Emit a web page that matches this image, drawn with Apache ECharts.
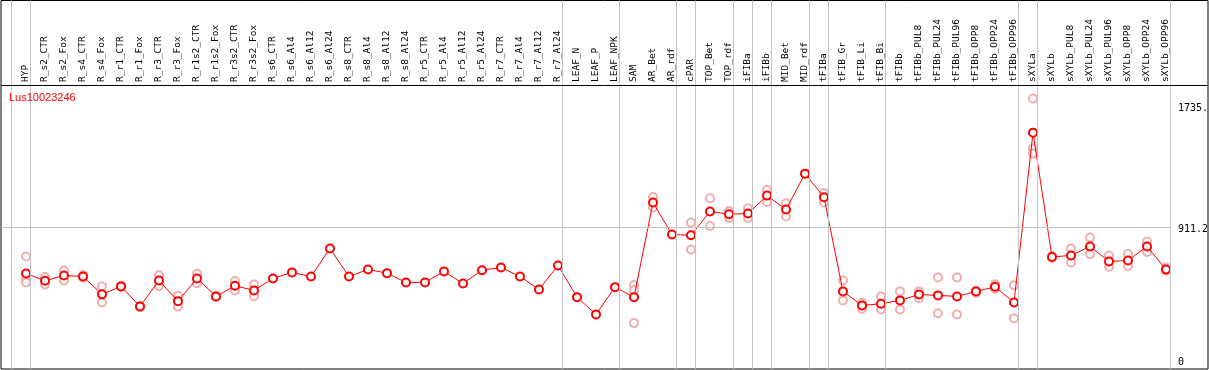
<!DOCTYPE html>
<html><head><meta charset="utf-8">
<script src="https://cdn.jsdelivr.net/npm/echarts@6/dist/echarts.min.js"></script>
<style>html,body{margin:0;padding:0;background:#fff}#c{width:1209px;height:370px}</style>
</head><body><div id="c"></div>
<script>
const categories = ["HYP","R_s2_CTR","R_s2_Fox","R_s4_CTR","R_s4_Fox","R_r1_CTR","R_r1_Fox","R_r3_CTR","R_r3_Fox","R_r1s2_CTR","R_r1s2_Fox","R_r3s2_CTR","R_r3s2_Fox","R_s6_CTR","R_s6_Al4","R_s6_Al12","R_s6_Al24","R_s8_CTR","R_s8_Al4","R_s8_Al12","R_s8_Al24","R_r5_CTR","R_r5_Al4","R_r5_Al12","R_r5_Al24","R_r7_CTR","R_r7_Al4","R_r7_Al12","R_r7_Al24","LEAF_N","LEAF_P","LEAF_NPK","SAM","AR_Bet","AR_rdf","cPAR","TOP_Bet","TOP_rdf","iFIBa","iFIBb","MID_Bet","MID_rdf","tFIBa","tFIB_Gr","tFIB_Li","tFIB_Bi","tFIBb","tFIBb_PUL8","tFIBb_PUL24","tFIBb_PUL96","tFIBb_OPP8","tFIBb_OPP24","tFIBb_OPP96","sXYLa","sXYLb","sXYLb_PUL8","sXYLb_PUL24","sXYLb_PUL96","sXYLb_OPP8","sXYLb_OPP24","sXYLb_OPP96"];
const meanValues = [601,551,587,580,459,513,377,553,413,567,445,517,486,567,608,580,770,580,628,603,540,540,614,533,623,641,580,492,655,440,323,508,440,1082,865,860,1021,1003,1007,1129,1035,1278,1118,479,384,395,418,458,452,445,479,510,404,1556,713,723,784,682,689,784,628];
const rep1 = [716,576,621,590,513,516,380,589,449,598,449,549,526,null,null,null,null,null,null,null,null,null,null,null,null,null,null,null,null,null,null,null,522,1120,null,946,1111,1025,1043,1167,1077,null,1147,553,402,445,479,479,574,574,484,528,520,1787,718,770,845,723,732,818,641];
const rep2 = [562,526,553,572,404,510,372,515,376,534,441,486,447,null,null,null,null,null,null,null,null,null,null,null,null,null,null,null,null,null,null,null,488,1048,null,763,923,978,978,1086,987,null,1082,418,362,357,357,432,330,323,470,497,296,1448,708,675,732,646,652,747,620];
const rep3 = [540,null,null,null,null,null,null,null,null,null,null,null,null,null,null,null,null,null,null,null,null,null,null,null,null,null,null,null,null,null,null,null,264,null,null,null,null,null,null,null,null,null,null,null,null,null,null,null,null,null,null,null,null,1414,null,null,null,null,null,null,null];
const groupSeparators = [-0.8,0.24,28.24,31.24,34.24,35.24,37.24,38.24,39.24,41.24,42.24,45.24,52.24,53.24,60.24];
const yTickValues = [0, 911.2, 1735];
const yTickLabels = ["0", "911.2", "1735."];
const geneName = "Lus10023246";

const X_MIN = -1.3158, X_MAX = 62.2105;
const Y_MIN = -47.4, Y_MAX = 2452.6;

const mainData = meanValues.map((v,i)=>[i,v]);
const repData = [];
[rep1,rep2,rep3].forEach(r=>r.forEach((v,i)=>{ if(v!=null) repData.push([i,v]); }));

const chart = echarts.init(document.getElementById('c'), null, {renderer:'canvas'});
const option = {
  animation:false,
  backgroundColor:'#fff',
  title:{text:geneName,left:9,top:92,padding:0,textStyle:{color:'#ff0000',fontSize:11,fontWeight:'normal',fontFamily:'Liberation Sans, Arial, sans-serif'}},
  grid:[
    {left:1,right:1,top:0.5,bottom:1,show:true,borderColor:'#000',borderWidth:1,backgroundColor:'transparent'},
    {left:16.5,width:1159,top:85,height:100}
  ],
  xAxis:[
    {gridIndex:0,type:'value',min:X_MIN,max:X_MAX,axisLine:{show:false},axisTick:{show:false},axisLabel:{show:false},splitLine:{show:false}},
    {gridIndex:1,type:'category',position:'top',data:categories,boundaryGap:true,axisLine:{show:false},axisTick:{show:false},splitLine:{show:false},
      axisLabel:{interval:0,rotate:90,margin:3,color:'#000',fontSize:9.5,fontFamily:'DejaVu Sans Mono, monospace'}}
  ],
  yAxis:[
    {gridIndex:0,type:'value',min:Y_MIN,max:Y_MAX,axisLine:{show:false},axisTick:{show:false},axisLabel:{show:false},splitLine:{show:false}},
    {gridIndex:1,type:'value',show:false}
  ],
  series:[
    {type:'line',xAxisIndex:0,yAxisIndex:0,data:[],silent:true,
      markLine:{silent:true,symbol:'none',label:{show:false},animation:false,
        lineStyle:{color:'#c4c4c4',width:1,type:'solid'},
        data:groupSeparators.map(s=>({xAxis:s})).concat([[{coord:[X_MIN,yTickValues[1]]},{coord:[groupSeparators[groupSeparators.length-1],yTickValues[1]]}]])}},
    {type:'scatter',xAxisIndex:0,yAxisIndex:0,data:repData,symbol:'emptyCircle',symbolSize:8,
      itemStyle:{color:'#ee9a9a',borderColor:'#ee9a9a',borderWidth:1.1},z:3},
    {type:'line',xAxisIndex:0,yAxisIndex:0,data:mainData,symbol:'emptyCircle',symbolSize:8,showAllSymbol:true,
      lineStyle:{color:'#ff0000',width:1},itemStyle:{color:'#ff0000',borderColor:'#ff0000',borderWidth:1.4},z:4}
  ]
};
chart.setOption(option);
const gfx = [{type:'line',shape:{x1:1,y1:85.5,x2:1208,y2:85.5},style:{stroke:'#000',lineWidth:1},z:10}];
yTickValues.forEach((v,k)=>{
  const p = chart.convertToPixel({xAxisIndex:0,yAxisIndex:0},[X_MIN,v]);
  const top = Math.min(p[1]-3, 357);
  gfx.push({type:'text',left:1178,top:top,style:{text:yTickLabels[k],fill:'#000',font:'10px "DejaVu Sans Mono", monospace'},z:10});
});
chart.setOption({graphic:gfx});
</script></body></html>
